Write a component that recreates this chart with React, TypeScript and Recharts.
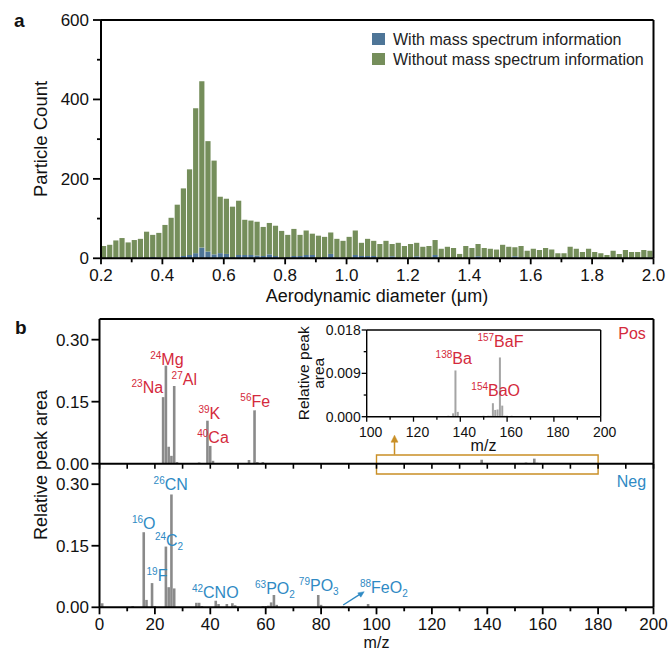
import React from 'react';
import { BarChart, Bar, XAxis, YAxis, ReferenceLine, ReferenceArea, LabelList } from 'recharts';

// ---- panel a : size distribution (bins of 0.02 µm from 0.2 µm) ----
const BIN_START = 0.2;
const BIN_WIDTH = 0.02;
const totalCount = [
  31, 34, 45, 51, 40, 46, 49, 67, 59, 64,
  84, 102, 135, 176, 224, 378, 446, 295, 246, 155,
  150, 130, 145, 97, 95, 92, 79, 89, 82, 69,
  59, 74, 59, 70, 62, 57, 54, 65, 49, 44,
  54, 70, 39, 49, 44, 36, 44, 36, 39, 31,
  36, 39, 29, 31, 46, 24, 29, 26, 11, 31,
  26, 36, 26, 24, 22, 34, 29, 28, 31, 19,
  24, 21, 26, 22, 13, 13, 29, 24, 16, 24,
  16, 13, 8, 19, 11, 21, 16, 16, 21, 19,
];
const withMS = [
  0, 0, 2, 0, 0, 0, 2, 0, 3, 2,
  0, 0, 3, 6, 8, 13, 27, 17, 10, 13,
  11, 3, 8, 8, 8, 7, 6, 10, 6, 0,
  3, 6, 6, 8, 8, 0, 3, 11, 2, 2,
  0, 8, 6, 6, 6, 0, 2, 5, 0, 2,
  0, 5, 2, 2, 8, 0, 0, 0, 0, 0,
  0, 5, 0, 3, 2, 0, 0, 5, 2, 0,
  0, 0, 0, 0, 0, 0, 0, 2, 0, 2,
  0, 0, 0, 0, 0, 0, 0, 0, 0, 2,
];
const diameterTicks = [0.2, 0.3, 0.4, 0.5, 0.6, 0.7, 0.8, 0.9, 1.0, 1.1, 1.2, 1.3, 1.4, 1.5, 1.6, 1.7, 1.8, 1.9, 2.0];
const countTicks = [0, 100, 200, 300, 400, 500, 600];

// ---- panel b : mass spectra ----
const posMz = [23, 24, 25, 26, 27, 28, 36, 39, 40, 41, 54, 56, 57, 59,
  134, 135, 136, 137, 138, 139, 140, 143, 146, 149, 150, 152, 153, 154, 155, 156, 157, 158, 159, 160, 162, 164];
const posArea = [0.161, 0.237, 0.041, 0.019, 0.188, 0.004, 0.003, 0.104, 0.043, 0.007, 0.009, 0.129, 0.004, 0.004,
  0.0001, 0.0002, 0.0001, 0.0007, 0.0096, 0.001, 0.0001, 0.0001, 0.0001, 0.0001, 0.0002, 0.0002, 0.0002, 0.0028, 0.0014, 0.0015, 0.0123, 0.0023, 0.0002, 0.0002, 0.0002, 0.0001];
const negMz = [1, 12, 16, 17, 19, 20, 24, 25, 26, 27, 35, 36, 37, 42, 43, 46, 48, 49, 59, 60, 61, 62, 63, 64, 79, 80, 88, 97];
const negArea = [0.0098, 0.003, 0.183, 0.018, 0.059, 0.003, 0.148, 0.049, 0.275, 0.046, 0.011, 0.011, 0.003, 0.016, 0.008, 0.008, 0.010, 0.005,
  0.003, 0.003, 0.004, 0.012, 0.030, 0.006, 0.030, 0.006, 0.002, 0.008];
const areaTicks = [0, 0.15, 0.3];
const mzTicks = [0, 10, 20, 30, 40, 50, 60, 70, 80, 90, 100, 110, 120, 130, 140, 150, 160, 170, 180, 190, 200];
const insetMzTicks = [100, 110, 120, 130, 140, 150, 160, 170, 180, 190, 200];
const insetAreaTicks = [0, 0.0045, 0.009, 0.0135, 0.018];

type Ion = { mz: number; iso: string; base: string; sub?: string };
const posIons: Ion[] = [
  { mz: 23, iso: '23', base: 'Na' },
  { mz: 24, iso: '24', base: 'Mg' },
  { mz: 27, iso: '27', base: 'Al' },
  { mz: 39, iso: '39', base: 'K' },
  { mz: 40, iso: '40', base: 'Ca' },
  { mz: 56, iso: '56', base: 'Fe' },
];
const insetIons: Ion[] = [
  { mz: 138, iso: '138', base: 'Ba' },
  { mz: 154, iso: '154', base: 'BaO' },
  { mz: 157, iso: '157', base: 'BaF' },
];
const negIons: Ion[] = [
  { mz: 16, iso: '16', base: 'O' },
  { mz: 19, iso: '19', base: 'F' },
  { mz: 24, iso: '24', base: 'C', sub: '2' },
  { mz: 26, iso: '26', base: 'CN' },
  { mz: 42, iso: '42', base: 'CNO' },
  { mz: 63, iso: '63', base: 'PO', sub: '2' },
  { mz: 79, iso: '79', base: 'PO', sub: '3' },
  { mz: 88, iso: '88', base: 'FeO', sub: '2' },
];

// label placement relative to the top centre of each bar
type Place = { anchor: 'start' | 'middle' | 'end'; dx: number; dy: number; arrow?: boolean };
const posPlace: Record<number, Place> = {
  23: { anchor: 'end', dx: 0, dy: -4 },
  24: { anchor: 'middle', dx: 1, dy: -1 },
  27: { anchor: 'start', dx: -2.6, dy: -1 },
  39: { anchor: 'start', dx: -9, dy: -1.5 },
  40: { anchor: 'start', dx: -13, dy: -2.7 },
  56: { anchor: 'middle', dx: 0.7, dy: -3.7 },
  138: { anchor: 'middle', dx: -1.7, dy: -6 },
  154: { anchor: 'middle', dx: 2.8, dy: -7.2 },
  157: { anchor: 'middle', dx: 0.5, dy: -10.8 },
};
const negPlace: Record<number, Place> = {
  16: { anchor: 'middle', dx: 0, dy: -3.3 },
  19: { anchor: 'start', dx: -5.5, dy: -2.2 },
  24: { anchor: 'start', dx: -11, dy: -1 },
  26: { anchor: 'middle', dx: -0.7, dy: -4.4 },
  42: { anchor: 'middle', dx: -0.5, dy: -3 },
  63: { anchor: 'middle', dx: 1, dy: -0.5 },
  79: { anchor: 'middle', dx: 0.5, dy: -4.4 },
  88: { anchor: 'start', dx: 16.7, dy: -13.2, arrow: true },
};

const FONT = '"Liberation Sans", Arial, Helvetica, sans-serif';
const RED = '#D42A3C';
const BLUE = '#2F8AC4';
const BLUE_BAR = '#4E7597';
const GREEN_BAR = '#758E5B';
const GREY = '#8A8A8A';
const LIGHT_GREY = '#A4A4A4';
const ORANGE = '#C98F26';
const AX = { stroke: '#000', strokeWidth: 2 };

const sizeRows = totalCount.map((t, i) => ({
  d: BIN_START + BIN_WIDTH * (i + 0.5),
  withMS: withMS[i],
  withoutMS: t - withMS[i],
}));
const posRows = posMz.map((mz, i) => ({ mz, v: posArea[i] }));
const insetRows = posRows.filter((r) => r.mz >= 100);
const negRows = negMz.map((mz, i) => ({ mz, v: negArea[i] }));

// ---------- ticks ----------
const DiamTick = (p: any) => {
  const v = p.payload.value;
  const major = Math.round(v * 10) % 2 === 0;
  return (
    <g>
      <line x1={p.x} x2={p.x} y1={p.y} y2={p.y + (major ? 6 : 4)} stroke="#000" strokeWidth={1.8} />
      {major && (
        <text x={p.x} y={p.y + 23} textAnchor="middle" fontSize={17} fontFamily={FONT} fill="#111">
          {v.toFixed(1)}
        </text>
      )}
    </g>
  );
};
const CountTick = (p: any) => {
  const v = p.payload.value;
  const major = v % 200 === 0;
  return (
    <g>
      <line x1={p.x} x2={p.x - (major ? 8 : 4)} y1={p.y} y2={p.y} stroke="#000" strokeWidth={1.8} />
      {major && (
        <text x={p.x - 12} y={p.y + 6} textAnchor="end" fontSize={17} fontFamily={FONT} fill="#111">
          {v}
        </text>
      )}
    </g>
  );
};
const AreaTick = (p: any) => (
  <g>
    <line x1={p.x} x2={p.x - 8} y1={p.y} y2={p.y} stroke="#000" strokeWidth={1.8} />
    <text x={p.x - 10.5} y={p.y + 6} textAnchor="end" fontSize={17} fontFamily={FONT} fill="#111">
      {p.payload.value.toFixed(2)}
    </text>
  </g>
);
const PosMzTick = (p: any) => (
  <line x1={p.x} x2={p.x} y1={p.y} y2={p.y + 5} stroke="#000" strokeWidth={1.6} />
);
const NegMzTick = (p: any) => {
  const v = p.payload.value;
  const major = v % 20 === 0;
  return (
    <g>
      <line x1={p.x} x2={p.x} y1={p.y} y2={p.y + (major ? 7 : 4)} stroke="#000" strokeWidth={1.8} />
      {major && (
        <text x={p.x} y={p.y + 22.5} textAnchor="middle" fontSize={17} fontFamily={FONT} fill="#111">
          {v}
        </text>
      )}
    </g>
  );
};
const InsetMzTick = (p: any) => {
  const v = p.payload.value;
  const major = v % 20 === 0;
  return (
    <g>
      <line x1={p.x} x2={p.x} y1={p.y} y2={p.y + (major ? 5 : 3)} stroke="#000" strokeWidth={1.3} />
      {major && (
        <text x={p.x + 4} y={p.y + 20} textAnchor="middle" fontSize={14} fontFamily={FONT} fill="#111">
          {v}
        </text>
      )}
    </g>
  );
};
const InsetAreaTick = (p: any) => {
  const v = p.payload.value;
  const major = Math.round(v * 10000) % 90 === 0;
  return (
    <g>
      <line x1={p.x} x2={p.x - (major ? 5 : 3)} y1={p.y} y2={p.y} stroke="#000" strokeWidth={1.3} />
      {major && (
        <text x={p.x - 6} y={p.y + 5} textAnchor="end" fontSize={14} fontFamily={FONT} fill="#111">
          {v.toFixed(3)}
        </text>
      )}
    </g>
  );
};

// ---------- ion labels ----------
const ionLabel = (rows: { mz: number }[], ions: Ion[], place: Record<number, Place>, color: string) => (props: any) => {
  const vb = props.viewBox || {};
  const x = Number(props.x ?? vb.x);
  const y = Number(props.y ?? vb.y);
  const w = Number(props.width ?? vb.width ?? 0);
  const row = rows[props.index];
  if (!row) return null;
  const ion = ions.find((i) => i.mz === row.mz);
  const pl = place[row.mz];
  if (!ion || !pl) return null;
  const cx = x + w / 2;
  return (
    <g>
      {pl.arrow && (
        <g stroke={color} fill={color}>
          <line x1={cx} y1={y - 1.5} x2={cx + 17} y2={y - 12.3} strokeWidth={1.4} />
          <polygon points={`${cx + 21},${y - 14.8} ${cx + 14.6},${y - 13.6} ${cx + 17.6},${y - 9.3}`} strokeWidth={0.5} />
        </g>
      )}
      <text x={cx + pl.dx} y={y + pl.dy} textAnchor={pl.anchor} fill={color} fontSize={16} fontFamily={FONT}>
        <tspan fontSize={10} dy={-6}>{ion.iso}</tspan>
        <tspan dy={6}>{ion.base}</tspan>
        {ion.sub && <tspan fontSize={10} dy={4}>{ion.sub}</tspan>}
      </text>
    </g>
  );
};

const UpArrow = (p: any) => {
  const { x1, y1, x2, y2 } = p;
  return (
    <g stroke={ORANGE} fill={ORANGE}>
      <line x1={x1} y1={y1} x2={x2} y2={y2 + 5} strokeWidth={1.5} />
      <polygon points={`${x2},${y2} ${x2 - 3.5},${y2 + 7} ${x2 + 3.5},${y2 + 7}`} strokeWidth={0.5} />
    </g>
  );
};

const full = { position: 'absolute' as const, left: 0, top: 0 };

export default function App() {
  return (
    <div style={{ position: 'absolute', left: 0, top: 0, width: 669, height: 652, background: '#fff', fontFamily: FONT }}>
      {/* panel a */}
      <div style={full}>
        <BarChart width={669} height={652} data={sizeRows} margin={{ top: 20, right: 15.5, bottom: 363.7, left: 41 }}>
          <XAxis type="number" dataKey="d" domain={[0.2, 2.0]} ticks={diameterTicks} interval={0} height={30}
            tickSize={0} tickMargin={0} tickLine={false} axisLine={AX} tick={<DiamTick />} allowDataOverflow />
          <YAxis type="number" domain={[0, 600]} ticks={countTicks} interval={0} width={60}
            tickSize={0} tickMargin={0} tickLine={false} axisLine={AX} tick={<CountTick />} />
          <ReferenceLine y={600} stroke="#000" strokeWidth={2} />
          <ReferenceLine x={2.0} stroke="#000" strokeWidth={2} />
          <Bar dataKey="withMS" stackId="s" fill={BLUE_BAR} barSize={5.2} isAnimationActive={false} />
          <Bar dataKey="withoutMS" stackId="s" fill={GREEN_BAR} barSize={5.2} isAnimationActive={false} />
        </BarChart>
      </div>

      {/* panel b, positive ions */}
      <div style={full}>
        <BarChart width={669} height={652} data={posRows} margin={{ top: 319, right: 15.5, bottom: 168.3, left: 39.5 }}>
          <XAxis type="number" dataKey="mz" domain={[0, 200]} ticks={mzTicks} interval={0} height={20}
            tickSize={0} tickMargin={0} tickLine={false} axisLine={AX} tick={<PosMzTick />} />
          <YAxis type="number" domain={[0, 0.35]} ticks={areaTicks} interval={0} width={60}
            tickSize={0} tickMargin={0} tickLine={false} axisLine={AX} tick={<AreaTick />} />
          <ReferenceLine y={0.35} stroke="#000" strokeWidth={2} />
          <ReferenceLine x={200} stroke="#000" strokeWidth={2} />
          <ReferenceArea x1={100} x2={180} y1={-0.025} y2={0.021} ifOverflow="visible" fill="none" fillOpacity={0}
            stroke={ORANGE} strokeWidth={1.4} />
          <ReferenceLine segment={[{ x: 106.5, y: 0.022 }, { x: 106.5, y: 0.069 }]} ifOverflow="visible" shape={<UpArrow />} />
          <Bar dataKey="v" fill={GREY} barSize={2.6} isAnimationActive={false}>
            <LabelList dataKey="mz" content={ionLabel(posRows, posIons, posPlace, RED)} />
          </Bar>
        </BarChart>
      </div>

      {/* panel b, negative ions */}
      <div style={full}>
        <BarChart width={669} height={652} data={negRows} margin={{ top: 463.7, right: 15.5, bottom: 14.7, left: 39.5 }}>
          <XAxis type="number" dataKey="mz" domain={[0, 200]} ticks={mzTicks} interval={0} height={30}
            tickSize={0} tickMargin={0} tickLine={false} axisLine={AX} tick={<NegMzTick />} />
          <YAxis type="number" domain={[0, 0.35]} ticks={areaTicks} interval={0} width={60}
            tickSize={0} tickMargin={0} tickLine={false} axisLine={AX} tick={<AreaTick />} />
          <ReferenceLine x={200} stroke="#000" strokeWidth={2} />
          <Bar dataKey="v" fill={GREY} barSize={2.6} isAnimationActive={false}>
            <LabelList dataKey="mz" content={ionLabel(negRows, negIons, negPlace, BLUE)} />
          </Bar>
        </BarChart>
      </div>

      {/* inset, zoom on m/z 100-200 of the positive spectrum */}
      <div style={full}>
        <BarChart width={669} height={652} data={insetRows} margin={{ top: 330, right: 68.3, bottom: 210.3, left: 321.7 }}>
          <XAxis type="number" dataKey="mz" domain={[100, 200]} ticks={insetMzTicks} interval={0} height={25}
            tickSize={0} tickMargin={0} tickLine={false} axisLine={{ stroke: '#000', strokeWidth: 1.4 }} tick={<InsetMzTick />} />
          <YAxis type="number" domain={[0, 0.018]} ticks={insetAreaTicks} interval={0} width={45}
            tickSize={0} tickMargin={0} tickLine={false} axisLine={{ stroke: '#000', strokeWidth: 1.4 }} tick={<InsetAreaTick />} />
          <ReferenceLine y={0.018} stroke="#000" strokeWidth={1.4} />
          <ReferenceLine x={200} stroke="#000" strokeWidth={1.4} />
          <Bar dataKey="v" fill={LIGHT_GREY} barSize={2} isAnimationActive={false}>
            <LabelList dataKey="mz" content={ionLabel(insetRows, insetIons, posPlace, RED)} />
          </Bar>
        </BarChart>
      </div>

      {/* titles, legend, panel letters */}
      <svg width={669} height={652} style={{ ...full, pointerEvents: 'none' }} fontFamily={FONT}>
        <text x={14} y={26.5} fontSize={19} fontWeight="bold" fill="#111">a</text>
        <text x={15} y={334} fontSize={19} fontWeight="bold" fill="#111">b</text>
        <text transform="translate(46.5,139) rotate(-90)" textAnchor="middle" fontSize={18.5} fill="#111">Particle Count</text>
        <text x={377} y={302} textAnchor="middle" fontSize={18} fill="#111">Aerodynamic diameter (μm)</text>
        <rect x={372} y={33} width={13} height={12} fill={BLUE_BAR} />
        <rect x={372} y={53} width={13} height={12} fill={GREEN_BAR} />
        <text x={393} y={45} fontSize={16} fill="#222">With mass spectrum information</text>
        <text x={393} y={65} fontSize={16} fill="#222">Without mass spectrum information</text>
        <text transform="translate(47,465) rotate(-90)" textAnchor="middle" fontSize={18} fill="#111">Relative peak area</text>
        <text x={376.5} y={648} textAnchor="middle" fontSize={16} fill="#111">m/z</text>
        <text transform="translate(309,373.3) rotate(-90)" textAnchor="middle" fontSize={15.5} fill="#111">Relative peak</text>
        <text transform="translate(323.5,373.3) rotate(-90)" textAnchor="middle" fontSize={15.5} fill="#111">area</text>
        <text x={483.5} y={450.5} textAnchor="middle" fontSize={16} fill="#111">m/z</text>
        <text x={618.3} y={339} fontSize={16} fill={RED}>Pos</text>
        <text x={616.7} y={486.7} fontSize={16} fill={BLUE}>Neg</text>
      </svg>
    </div>
  );
}
